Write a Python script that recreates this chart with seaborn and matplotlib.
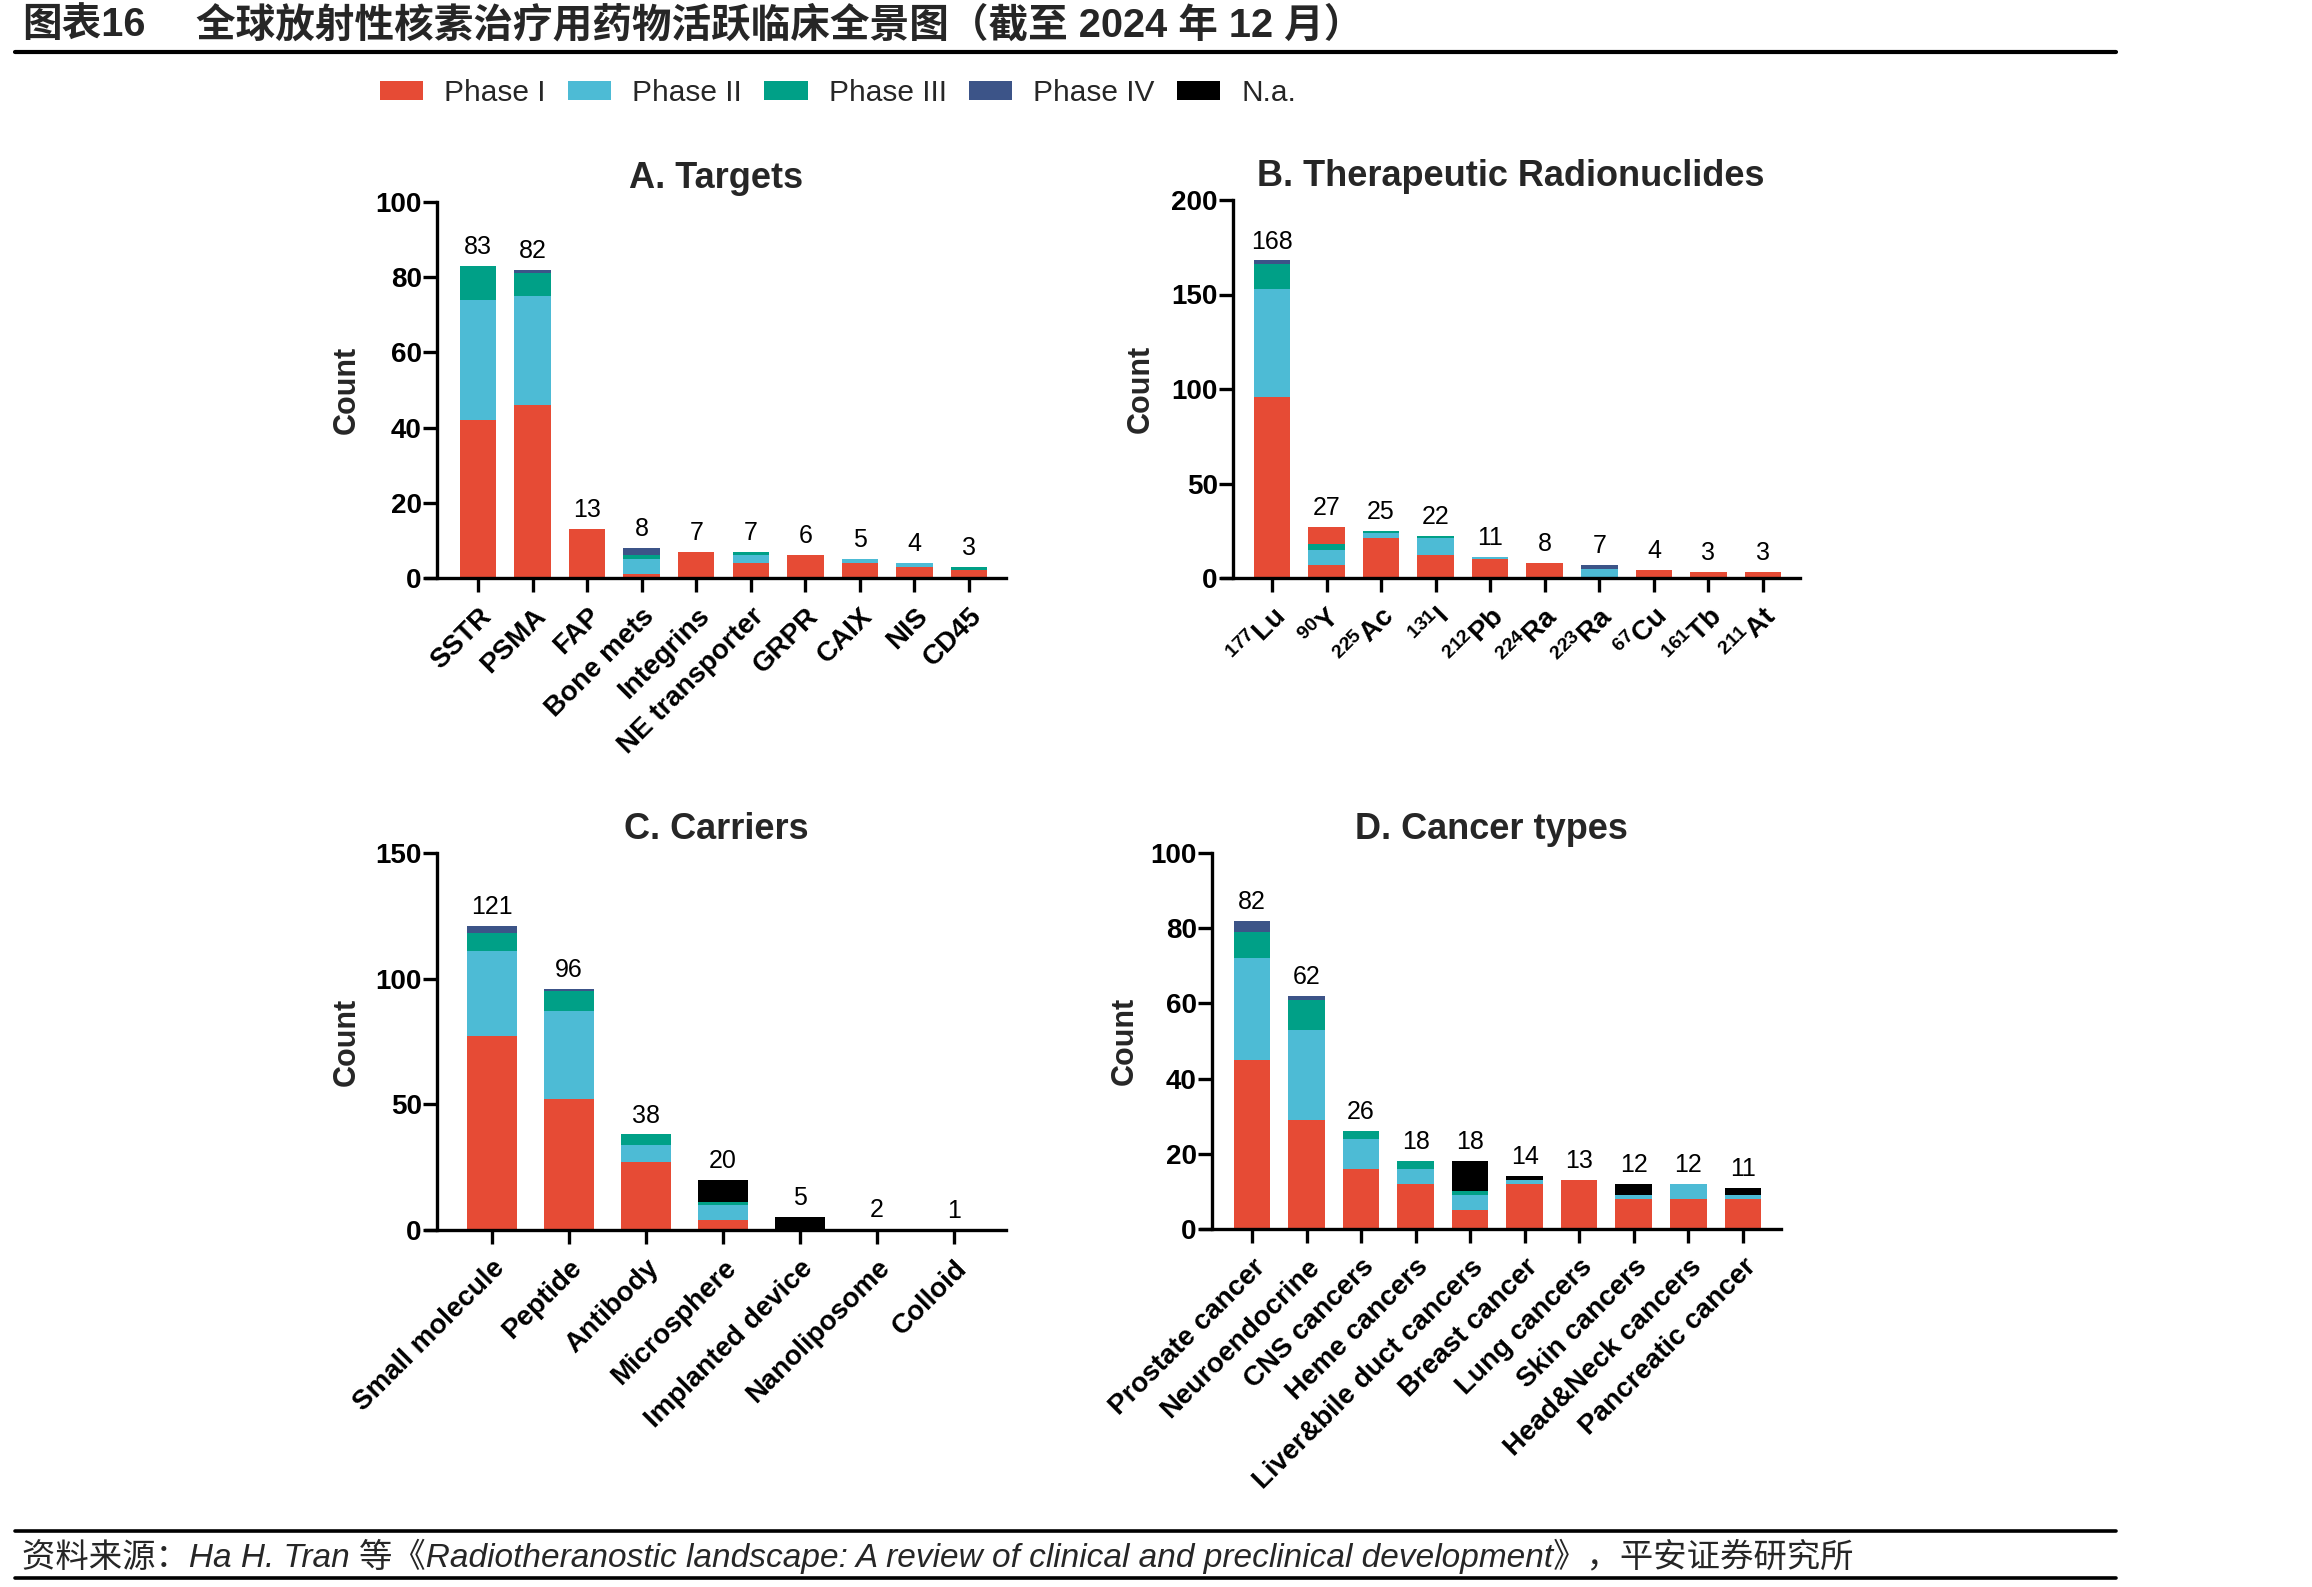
import numpy as np
import matplotlib
matplotlib.use("Agg")
import matplotlib.pyplot as plt
from matplotlib.patches import Patch
from matplotlib.lines import Line2D
import seaborn as sns

# ── Style ──────────────────────────────────────────────
sns.set_theme(style="ticks")
plt.rcParams["font.family"] = ["Liberation Sans", "Noto Sans CJK SC", "DejaVu Sans"]
plt.rcParams.update({
    "mathtext.fontset": "custom",
    "mathtext.rm": "Liberation Sans",
    "mathtext.default": "regular",
    "axes.edgecolor": "black",
    "axes.linewidth": 2.4,
})

PHASES = ["Phase I", "Phase II", "Phase III", "Phase IV", "N.a."]
COLORS = ["#E64B35", "#4DBBD5", "#00A087", "#3C5488", "#000000"]

# ── Data ───────────────────────────────────────────────
# A. Targets
targets = ["SSTR", "PSMA", "FAP", "Bone mets", "Integrins", "NE transporter",
           "GRPR", "CAIX", "NIS", "CD45"]
targets_p1 = [42, 46, 13, 1, 7, 4, 6, 4, 3, 2]
targets_p2 = [32, 29, 0, 4, 0, 2, 0, 1, 1, 0]
targets_p3 = [9, 6, 0, 1, 0, 1, 0, 0, 0, 1]
targets_p4 = [0, 1, 0, 2, 0, 0, 0, 0, 0, 0]
targets_na = [0, 0, 0, 0, 0, 0, 0, 0, 0, 0]
targets_total = [83, 82, 13, 8, 7, 7, 6, 5, 4, 3]

# B. Therapeutic radionuclides
nuc_mass = ["177", "90", "225", "131", "212", "224", "223", "67", "161", "211"]
nuc_symbol = ["Lu", "Y", "Ac", "I", "Pb", "Ra", "Ra", "Cu", "Tb", "At"]
nuc_p1 = [96, 7, 21, 12, 10, 8, 0, 4, 3, 3]
nuc_p2 = [57, 8, 3, 9, 1, 0, 5, 0, 0, 0]
nuc_p3 = [13, 3, 1, 1, 0, 0, 0, 0, 0, 0]
nuc_p4 = [2, 0, 0, 0, 0, 0, 2, 0, 0, 0]
nuc_na = [0, 0, 0, 0, 0, 0, 0, 0, 0, 0]
nuc_top_red = [0, 9, 0, 0, 0, 0, 0, 0, 0, 0]   # extra red block on top of 90Y
nuc_total = [168, 27, 25, 22, 11, 8, 7, 4, 3, 3]

# C. Carriers
carriers = ["Small molecule", "Peptide", "Antibody", "Microsphere",
            "Implanted device", "Nanoliposome", "Colloid"]
car_p1 = [77, 52, 27, 4, 0, 0.5, 0]
car_p2 = [34, 35, 7, 6, 0, 0, 0]
car_p3 = [7, 8, 4, 1, 0, 0, 0]
car_p4 = [3, 1, 0, 0, 0, 0, 0]
car_na = [0, 0, 0, 9, 5, 0, 0]
car_total = [121, 96, 38, 20, 5, 2, 1]

# D. Cancer types
cancers = ["Prostate cancer", "Neuroendocrine", "CNS cancers", "Heme cancers",
           "Liver&bile duct cancers", "Breast cancer", "Lung cancers",
           "Skin cancers", "Head&Neck cancers", "Pancreatic cancer"]
can_p1 = [45, 29, 16, 12, 5, 12, 13, 8, 8, 8]
can_p2 = [27, 24, 8, 4, 4, 1, 0, 1, 4, 1]
can_p3 = [7, 8, 2, 2, 1, 0, 0, 0, 0, 0]
can_p4 = [3, 1, 0, 0, 0, 0, 0, 0, 0, 0]
can_na = [0, 0, 0, 0, 8, 1, 0, 3, 0, 2]
can_total = [82, 62, 26, 18, 18, 14, 13, 12, 12, 11]


W, H = 2312, 1587
fig = plt.figure(figsize=(W / 100, H / 100), dpi=100)
fig.patch.set_facecolor("white")


def draw_panel(rect, cats, ticklabels, layers, totals, ylim, yticks, title,
               xlim, width, spine_off, ylab_x):
    ax = fig.add_axes(rect)
    vals = np.array([v for v, _ in layers], dtype=float)
    cum = np.cumsum(vals, axis=0)
    # stacked bars: draw cumulative heights from top layer down
    for k in range(len(layers) - 1, -1, -1):
        sns.barplot(x=cats, y=cum[k], order=cats, color=layers[k][1],
                    saturation=1, width=width, linewidth=0, ax=ax)
    for i, t in enumerate(totals):
        ax.annotate(str(t), (i, cum[-1][i]), xytext=(0, 5),
                    textcoords="offset points", ha="center", va="bottom",
                    fontsize=18, color="black")
    # spine position resets ticks, so do it before labelling
    sns.despine(ax=ax)
    ax.spines["left"].set_position(("axes", spine_off))
    ax.set_xlim(*xlim)
    ax.set_ylim(*ylim)
    ax.set_yticks(yticks)
    ax.set_yticklabels([str(t) for t in yticks], fontsize=20, fontweight="bold")
    ax.set_xticks(range(len(cats)))
    ax.set_xticklabels(ticklabels, rotation=45, ha="right", va="top",
                       rotation_mode="anchor", fontsize=20, fontweight="bold")
    ax.tick_params(axis="both", direction="out", length=10, width=2.4,
                   color="black", labelcolor="black")
    ax.tick_params(axis="y", pad=1)
    ax.tick_params(axis="x", pad=8)
    ax.set_xlabel("")
    ax.set_ylabel("Count", fontsize=22, fontweight="bold")
    ax.yaxis.set_label_coords(ylab_x, 0.5)
    ax.set_title(title, fontsize=26, fontweight="bold", pad=10)
    return ax


red, blue, teal, navy, black = COLORS

draw_panel([426 / W, 1 - 578 / H, 580 / W, 376 / H], targets, targets,
           [(targets_p1, red), (targets_p2, blue), (targets_p3, teal),
            (targets_p4, navy), (targets_na, black)],
           targets_total, (0, 100), [0, 20, 40, 60, 80, 100], "A. Targets",
           (-0.953, 9.678), 0.67, 11 / 580, -0.11)

nuc_labels = [f"$^{{{m}}}$" + s for m, s in zip(nuc_mass, nuc_symbol)]
draw_panel([1222 / W, 1 - 578 / H, 578 / W, 378 / H], nuc_labels, nuc_labels,
           [(nuc_p1, red), (nuc_p2, blue), (nuc_p3, teal), (nuc_p4, navy),
            (nuc_na, black), (nuc_top_red, red)],
           nuc_total, (0, 200), [0, 50, 100, 150, 200],
           "B. Therapeutic Radionuclides",
           (-0.916, 9.678), 0.67, 11 / 578, -0.114)

draw_panel([426 / W, 1 - 1230 / H, 580 / W, 377 / H], carriers, carriers,
           [(car_p1, red), (car_p2, blue), (car_p3, teal), (car_p4, navy),
            (car_na, black)],
           car_total, (0, 150), [0, 50, 100, 150], "C. Carriers",
           (-0.857, 6.675), 0.66, 11 / 580, -0.11)

draw_panel([1201 / W, 1 - 1229 / H, 580 / W, 376 / H], cancers, cancers,
           [(can_p1, red), (can_p2, blue), (can_p3, teal), (can_p4, navy),
            (can_na, black)],
           can_total, (0, 100), [0, 20, 40, 60, 80, 100], "D. Cancer types",
           (-0.935, 9.70), 0.67, 11 / 580, -0.105)

# ── Legend ─────────────────────────────────────────────
handles = [Patch(facecolor=c, edgecolor="none") for c in COLORS]
fig.legend(handles, PHASES, loc="center left",
           bbox_to_anchor=(380 / W, 1 - 93 / H), ncol=5, frameon=False,
           fontsize=21.5, handlelength=1.45, handleheight=0.62,
           handletextpad=0.7, columnspacing=0.75, borderpad=0, borderaxespad=0)

# ── Header / footer ────────────────────────────────────
fig.text(22 / W, 1 - 25 / H, "图表16", fontsize=28.5, fontweight="bold", va="center")
fig.text(196 / W, 1 - 25 / H, "全球放射性核素治疗用药物活跃临床全景图（截至 2024 年 12 月）",
         fontsize=28.5, fontweight="bold", va="center")
for yy, lw in [(52, 3.0), (1531, 2.6), (1578, 2.6)]:
    fig.add_artist(Line2D([15 / W, 2116 / W], [1 - yy / H, 1 - yy / H],
                          transform=fig.transFigure, color="black", lw=lw))
fig.text(22 / W, 1 - 1556 / H,
         "资料来源：Ha H. Tran 等《Radiotheranostic landscape: A review of clinical and "
         "preclinical development》，平安证券研究所",
         fontsize=24, style="italic", va="center")

fig.savefig("out.png", dpi=100, facecolor="white")
